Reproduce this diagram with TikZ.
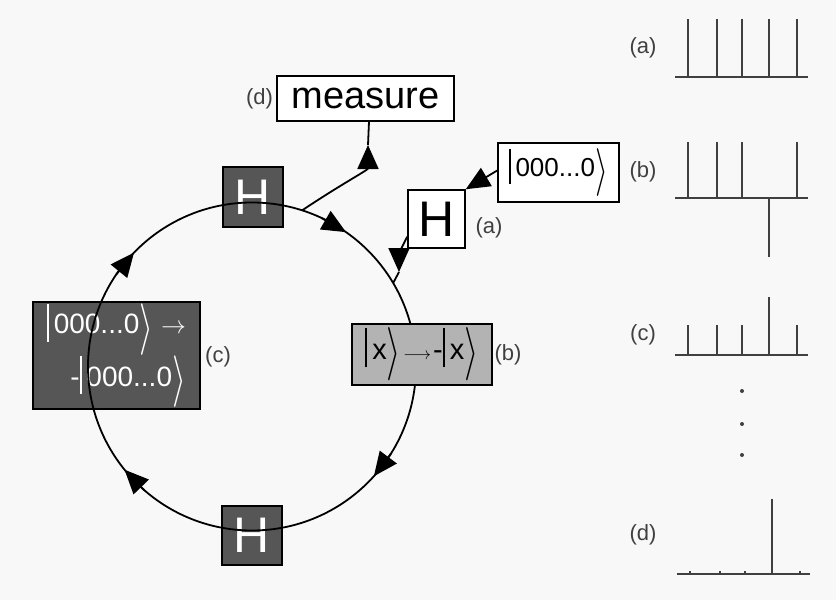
\documentclass[tikz,border=0pt]{standalone}
\usepackage{fontspec}
\usepackage{graphicx}
\setmainfont{Liberation Sans}
\usetikzlibrary{arrows.meta,calc}
\newcommand{\myang}{\raisebox{-0.3em}{\resizebox{0.5em}{1.38em}{$\rangle$}}}
\newcommand{\myket}[1]{\rule[-0.28em]{2.2pt}{1.35em}\,#1\myang}
\definecolor{dk}{HTML}{565656}
\definecolor{lt}{HTML}{B3B3B3}
\definecolor{bg}{HTML}{F8F8F8}
\begin{document}
\begin{tikzpicture}[x=1pt,y=-1pt,
  darkbox/.style={draw=black,fill=dk,text=white,line width=1.5pt,inner sep=0pt},
  whitebox/.style={draw=black,fill=white,line width=1.5pt,inner sep=0pt},
  greybox/.style={draw=black,fill=lt,line width=1.5pt,inner sep=0pt},
  lbl/.style={font=\fontsize{22}{24}\selectfont,inner sep=0pt,text=black!75},
  tip/.style={-{Triangle[length=24pt,width=21pt]}},
  flow/.style={line width=1.8pt,draw=black},
  stem/.style={line width=2pt,draw=black!75},
  bigH/.style={font=\fontsize{50}{50}\selectfont}]
\fill[bg] (0,0) rectangle (836,600);
\useasboundingbox (0,0) rectangle (836,600);
% nodes under the circle
\node[darkbox,bigH,minimum width=60pt,minimum height=60pt] (Htop) at (253,197) {H};
\node[darkbox,bigH,minimum width=60pt,minimum height=59pt] (Hbot) at (252,535.5) {H};
\node[darkbox,minimum width=167pt,minimum height=107pt,align=right,
      font=\fontsize{28}{44}\selectfont] (cbox) at (116.5,355.5)
      {\myket{000...0}\ $\rightarrow$\\ -\myket{000...0}};
% circle
\coordinate (C) at (252,366.5);
\draw[flow] (C) circle[radius=164];
\draw[flow,tip] ($(C)+(-65:164)$) -- ($(C)+(-55:164)$);
\draw[flow,tip] ($(C)+(-146:164)$) -- ($(C)+(-136:164)$);
\draw[flow,tip] ($(C)+(-229:164)$) -- ($(C)+(-219:164)$);
\draw[flow,tip] ($(C)+(32:164)$) -- ($(C)+(42:164)$);
% grey box on top
\node[greybox,minimum width=140pt,minimum height=61pt,font=\fontsize{29}{30}\selectfont] (bbox) at (422,354.5)
  {\myket{x}\hspace{2pt}{\fontsize{16}{16}\selectfont$\longrightarrow$}\hspace{2pt}-\myket{x}};
% other nodes
\node[whitebox,minimum width=177pt,minimum height=45pt,font=\fontsize{38}{40}\selectfont] (meas) at (365.5,98.5) {measure};
\node[whitebox,bigH,minimum width=57pt,minimum height=58pt,text=black] (Ha) at (436.5,219) {H};
\node[whitebox,minimum width=121pt,minimum height=59pt,font=\fontsize{26}{28}\selectfont] (kbox) at (558.5,172.5) {\myket{000...0}};
% labels
\node[lbl,anchor=east] (ld) at (meas.west) [xshift=-3pt] {(d)};
\node[lbl] (la) at (489,228) {(a)};
\node[lbl] (lb) at (508,355) {(b)};
\node[lbl] (lc) at (218,357) {(c)};
% connectors
\coordinate (P1) at ($(C)+(-72.2:164)$);
\coordinate (M1) at (368,145);
\draw[flow,tip] (P1) .. controls (340,185) and (368,170) .. (M1);
\draw[flow] (M1) -- ($(meas.south)+(3.5,0)$);
\draw[flow,tip] ($(kbox.west)+(0,-2)$) -- (Ha.north east);
\coordinate (S) at ($(Ha.south west)+(0,-12)$);
\coordinate (T) at (399,272);
\coordinate (P2) at ($(C)+(-30.6:164)$);
\draw[flow,tip] (S) .. controls (402,246) and (399,256) .. (T);
\draw[flow] (T) -- (P2);
% stem plots
\node[lbl] (sa) at (643,48) {(a)};
\node[lbl] (sb) at (643,172) {(b)};
\node[lbl] (sc) at (643,335) {(c)};
\node[lbl] (sd) at (643,535) {(d)};
\draw[stem] (675,77) -- (808,77);
\foreach \x in {688,717,742,769,797} \draw[stem] (\x,77) -- (\x,19);
\draw[stem] (675,198) -- (808,198);
\foreach \x in {688,717,742,797} \draw[stem] (\x,198) -- (\x,142);
\draw[stem] (769,198) -- (769,257);
\draw[stem] (675,355) -- (808,355);
\foreach \x in {688,717,742,797} \draw[stem] (\x,355) -- (\x,325);
\draw[stem] (769,355) -- (769,297);
\foreach \y in {391,424,455} \fill[black!75] (742,\y) circle[radius=2];
\draw[stem] (677,574) -- (810,574);
\foreach \x in {690,720,745,800} \draw[stem] (\x,574) -- (\x,571);
\draw[stem] (772,574) -- (772,499);
\end{tikzpicture}
\end{document}
